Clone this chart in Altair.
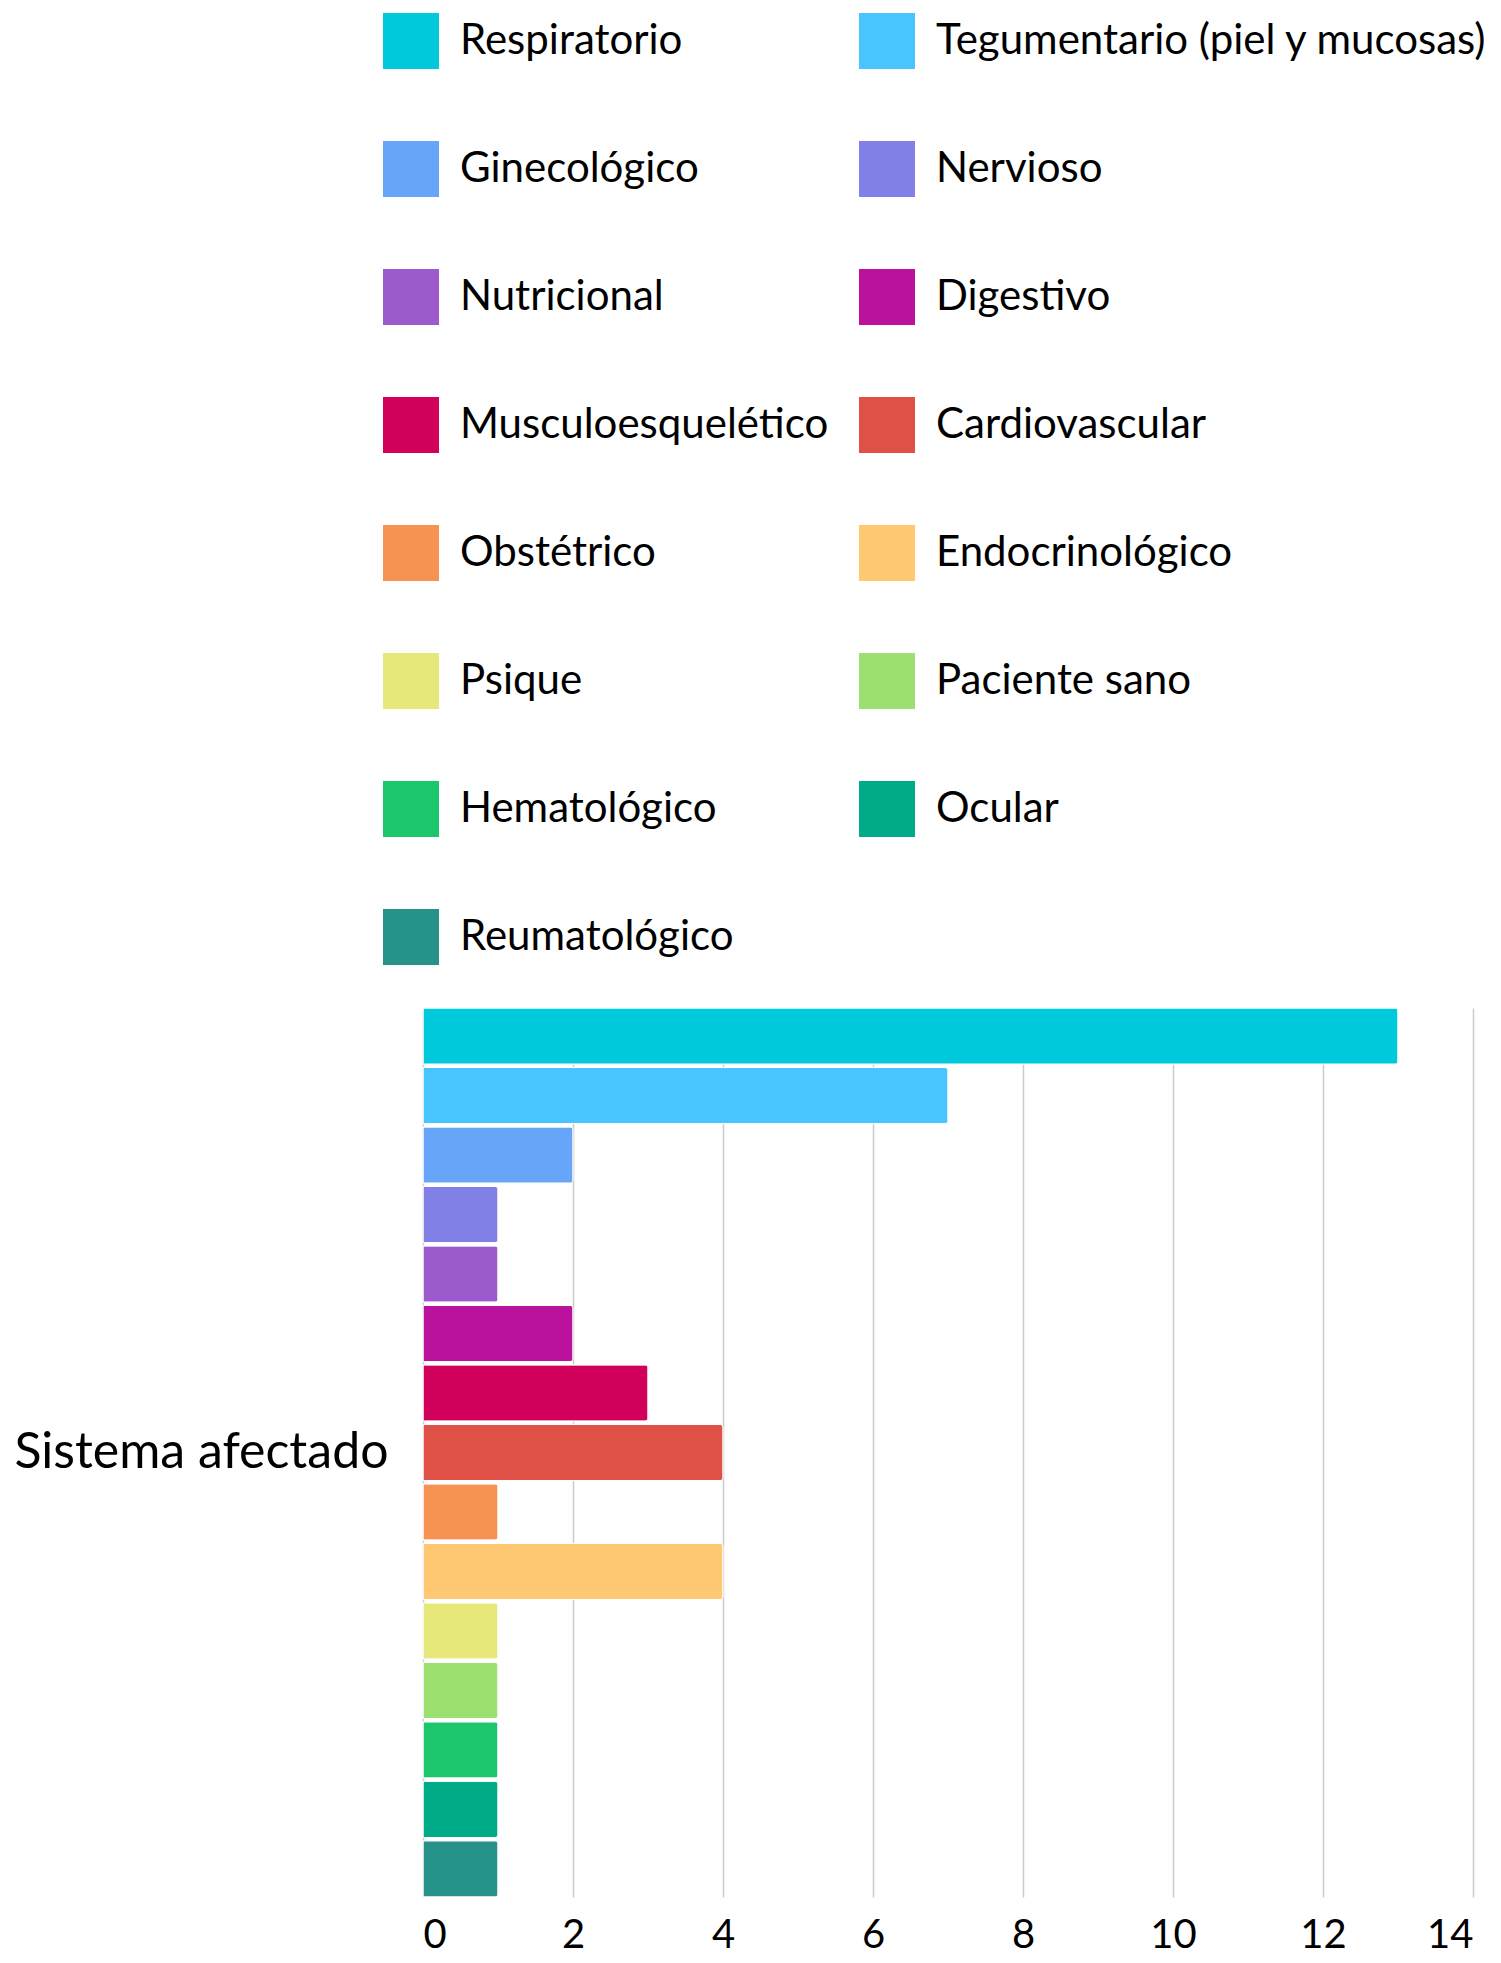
import altair as alt
import pandas as pd

sistemas = [
    "Respiratorio", "Tegumentario (piel y mucosas)", "Ginecológico", "Nervioso",
    "Nutricional", "Digestivo", "Musculoesquelético", "Cardiovascular",
    "Obstétrico", "Endocrinológico", "Psique", "Paciente sano",
    "Hematológico", "Ocular", "Reumatológico",
]
valores = [13, 7, 2, 1, 1, 2, 3, 4, 1, 4, 1, 1, 1, 1, 1]
colores = [
    "#00C9DB", "#48C4FE", "#66A5F8", "#8080E6", "#9C5ACD", "#BB129D",
    "#D1005A", "#DF5146", "#F69352", "#FFC973", "#E6E87A", "#9CE070",
    "#1CC66D", "#00AB88", "#27928A",
]
grupo = "Sistema afectado"
ticks_x = [0, 2, 4, 6, 8, 10, 12, 14]

df = pd.DataFrame({"grupo": [grupo] * len(sistemas), "sistema": sistemas, "valor": valores})

chart = alt.Chart(df).mark_bar(
    cornerRadiusTopRight=3, cornerRadiusBottomRight=3, stroke="white", strokeWidth=1
).encode(
    x=alt.X(
        "valor:Q",
        scale=alt.Scale(domain=[0, 14], nice=False),
        axis=alt.Axis(
            values=ticks_x, title=None, grid=True, gridColor="#cccccc", gridWidth=1.5,
            domain=False, ticks=False, labelFontSize=40, labelPadding=18,
            labelColor="#000000", labelFont="Lato",
        ),
    ),
    y=alt.Y(
        "grupo:N",
        scale=alt.Scale(paddingInner=0, paddingOuter=0),
        axis=alt.Axis(
            title=None, ticks=False, domain=False, labelFontSize=50, labelPadding=35,
            labelColor="#000000", labelFont="Lato", labelLimit=1000,
        ),
    ),
    yOffset=alt.YOffset(
        "sistema:N", sort=sistemas, scale=alt.Scale(paddingInner=0.055, paddingOuter=0.0)
    ),
    color=alt.Color(
        "sistema:N",
        sort=sistemas,
        scale=alt.Scale(domain=sistemas, range=colores),
        legend=alt.Legend(
            orient="none", legendX=-40, legendY=-995, direction="horizontal",
            columns=2, symbolType="square", symbolSize=3136, symbolStrokeWidth=0,
            labelFontSize=42, labelOffset=21, columnPadding=30, rowPadding=72,
            title=None, labelLimit=1000, labelColor="#000000", labelFont="Lato",
            gridAlign="each", padding=0,
        ),
    ),
).properties(
    width=1050, height=889,
    padding={"left": 5, "top": 5, "right": 0, "bottom": 0},
).configure(
    font="Lato"
).configure_view(
    strokeWidth=0
)

chart.save("out.html", embed_options={"renderer": "svg", "actions": False})
